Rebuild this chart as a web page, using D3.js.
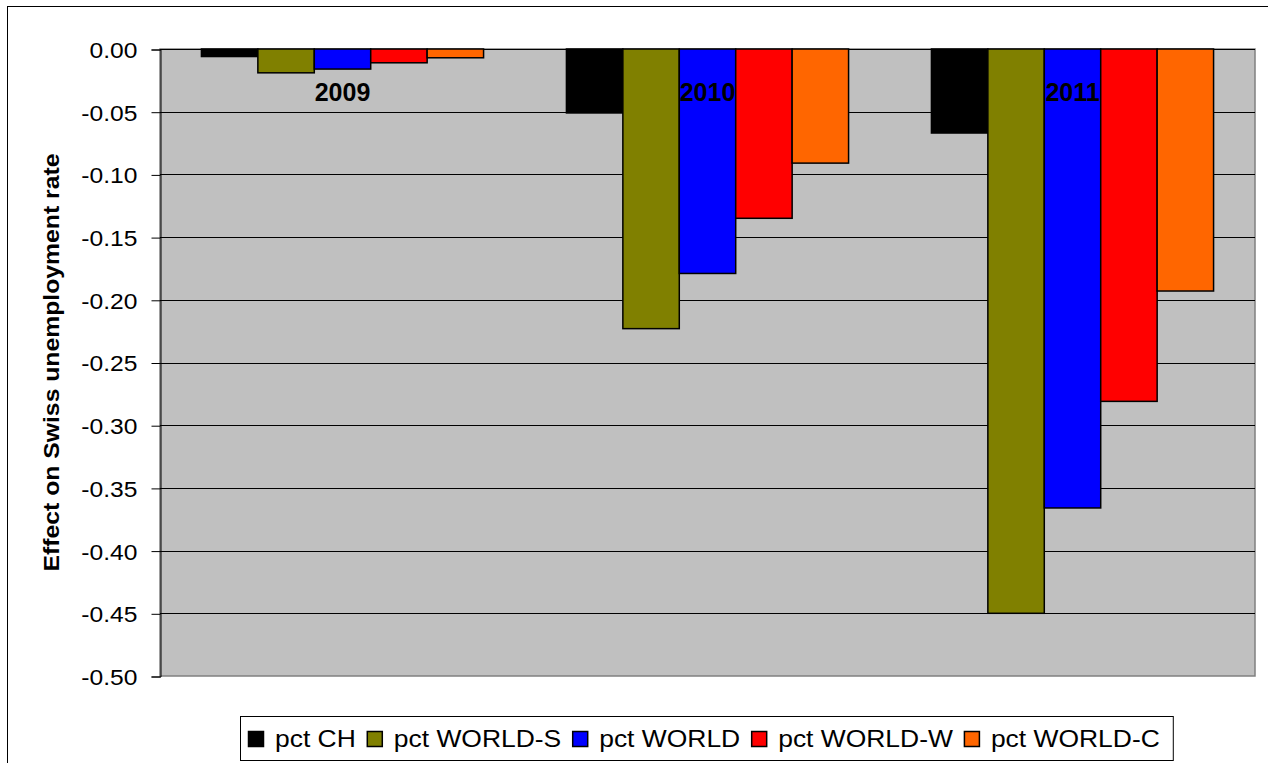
<!DOCTYPE html>
<html><head><meta charset="utf-8">
<script src="https://cdn.jsdelivr.net/npm/d3@7"></script>
<style>body{margin:0;background:#fff}text{font-family:"Liberation Sans",Arial,sans-serif}</style>
</head><body>
<svg id="c" width="1268" height="763"></svg>
<script>
const categories = ["2009", "2010", "2011"];
const seriesNames = ["pct CH", "pct WORLD-S", "pct WORLD", "pct WORLD-W", "pct WORLD-C"];
const seriesColors = ["#000000", "#808000", "#0000FF", "#FF0000", "#FF6600"];
const pctCH     = [-0.006, -0.051, -0.067];
const pctWorldS = [-0.019, -0.223, -0.450];
const pctWorld  = [-0.016, -0.179, -0.366];
const pctWorldW = [-0.011, -0.135, -0.281];
const pctWorldC = [-0.007, -0.091, -0.193];
const seriesValues = [pctCH, pctWorldS, pctWorld, pctWorldW, pctWorldC];
const yTicks = [0, -0.05, -0.10, -0.15, -0.20, -0.25, -0.30, -0.35, -0.40, -0.45, -0.50];
const yTitle = "Effect on Swiss unemployment rate";

const svg = d3.select("#c");
const L = 160, R = 1255, T = 49, B = 676;
const SX = 1.12;

// outer frame
svg.append("rect").attr("x", 7.5).attr("y", 6.5).attr("width", 1300).attr("height", 800)
  .attr("fill", "#fff").attr("stroke", "#000").attr("stroke-width", 1);

const y = d3.scaleLinear().domain([-0.5, 0]).range([B, T]);
const x0 = d3.scaleBand().domain(categories).range([L, R]).paddingInner(0.227).paddingOuter(0.1135);
const x1 = d3.scaleBand().domain(seriesNames).range([0, x0.bandwidth()]);

// plot area
svg.append("rect").attr("x", L).attr("y", T).attr("width", R - L).attr("height", B - T)
  .attr("fill", "#C0C0C0").attr("stroke", "#808080").attr("stroke-width", 1.5);

// gridlines
svg.append("g").selectAll("line").data(yTicks.filter(d => d > -0.5)).join("line")
  .attr("x1", L).attr("x2", R)
  .attr("y1", d => Math.round(y(d)) + 0.5).attr("y2", d => Math.round(y(d)) + 0.5)
  .attr("stroke", "#000").attr("stroke-width", 1);

// y axis
const fmt = d3.format(".2f");
const yAxis = d3.axisLeft(y).tickValues(yTicks).tickFormat(d => fmt(d).replace("\u2212", "-")).tickSize(9).tickPadding(0);
const ga = svg.append("g").attr("transform", `translate(${L + 0.5},0.5)`).call(yAxis);
ga.select(".domain").attr("stroke", "#000");
ga.selectAll(".tick line").attr("stroke", "#000");
ga.selectAll(".tick text").attr("font-size", 22).attr("fill", "#000")
  .attr("font-family", "Liberation Sans, Arial, sans-serif")
  .attr("x", 0).attr("dy", "0.36em")
  .attr("transform", `translate(-23,0) scale(${SX},1)`);

// bars
const groups = svg.append("g").selectAll("g").data(categories).join("g")
  .attr("transform", d => `translate(${x0(d)},0)`);
groups.selectAll("rect").data((c, ci) => seriesNames.map((s, si) => ({s, si, v: seriesValues[si][ci]})))
  .join("rect")
  .attr("x", d => x1(d.s)).attr("width", x1.bandwidth())
  .attr("y", y(0)).attr("height", d => y(d.v) - y(0))
  .attr("fill", d => seriesColors[d.si]).attr("stroke", "#000").attr("stroke-width", 1.5);

// category labels
svg.append("g").selectAll("text").data(categories).join("text")
  .attr("x", d => x0(d) + x0.bandwidth() / 2).attr("y", 101)
  .attr("text-anchor", "middle").attr("font-weight", "bold").attr("font-size", 25)
  .attr("fill", "#000").text(d => d);

// y title
svg.append("text").attr("transform", `translate(59,${(T + B) / 2}) rotate(-90) scale(1.1,1)`)
  .attr("text-anchor", "middle").attr("font-weight", "bold").attr("font-size", 22.5)
  .attr("fill", "#000").text(yTitle);

// legend
const LSX = 1.15;
const lg = svg.append("g");
const box = lg.append("rect").attr("x", 240.5).attr("y", 716.5).attr("height", 44)
  .attr("fill", "#fff").attr("stroke", "#000").attr("stroke-width", 1);
let cx = 248;
seriesNames.forEach((s, i) => {
  lg.append("rect").attr("x", cx + 0.5).attr("y", 731.5).attr("width", 15).attr("height", 15)
    .attr("fill", seriesColors[i]).attr("stroke", "#000").attr("stroke-width", 1.5);
  cx += 27;
  const t = lg.append("text").attr("x", 0).attr("y", 0).attr("font-size", 23).attr("fill", "#000").text(s)
    .attr("transform", `translate(${cx},747) scale(${LSX},1)`);
  cx += t.node().getComputedTextLength() * LSX + 11;
});
box.attr("width", cx - 240 + 2);
</script>
</body></html>
